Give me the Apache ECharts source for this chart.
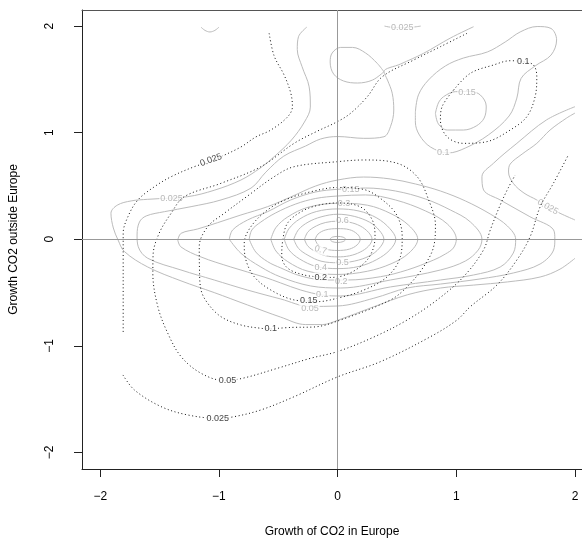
<!DOCTYPE html>
<html><head><meta charset="utf-8">
<script src="https://cdn.jsdelivr.net/npm/echarts/dist/echarts.min.js"></script>
<style>html,body{margin:0;padding:0;background:#fff}#chart{width:582px;height:543px}</style>
</head><body><div id="chart"></div>
<script>
// ---- axis ticks ----
const xTicks = [-2, -1, 0, 1, 2];
const yTicks = [-2, -1, 0, 1, 2];

// ---- solid (gray) contours ----
const s0025main = [[-0.26,1.99],[-0.33,1.90],[-0.34,1.78],[-0.30,1.62],[-0.24,1.43],[-0.23,1.24],[-0.28,1.10],[-0.39,0.93],[-0.535,0.775],[-0.65,0.67],[-0.815,0.556],[-1.04,0.46],[-1.263,0.40],[-1.60,0.375],[-1.74,0.36],[-1.857,0.32],[-1.91,0.244],[-1.89,0.106],[-1.85,-0.007],[-1.796,-0.116],[-1.60,-0.26],[-1.32,-0.39],[-1.04,-0.50],[-0.76,-0.616],[-0.48,-0.73],[-0.27,-0.80],[-0.126,-0.80],[0,-0.76],[0.30,-0.635],[0.59,-0.52],[0.866,-0.457],[1.143,-0.43],[1.43,-0.40],[1.706,-0.354],[1.874,-0.28],[2.0,-0.178]];
const s0025right = [[2.0,1.184],[1.93,1.138],[1.79,1.025],[1.678,0.90],[1.555,0.80],[1.454,0.706],[1.44,0.631],[1.48,0.525],[1.57,0.434],[1.678,0.369],[1.773,0.303],[1.874,0.244],[2.0,0.181]];
const s0025top = [[0.395,2.0],[0.445,1.99],[0.53,1.985],[0.63,1.99],[0.70,2.0]];
const s0025arc = [[-1.151,1.99],[-1.118,1.96],[-1.076,1.945],[-1.034,1.96],[-1.0,1.99]];
const s005main = [[1.145,1.994],[0.95,1.888],[0.725,1.745],[0.53,1.644],[0.39,1.572],[0.42,1.494],[0.46,1.37],[0.473,1.213],[0.445,1.056],[0.39,0.962],[0.22,0.947],[0,0.964],[-0.143,0.941],[-0.27,0.875],[-0.454,0.78],[-0.605,0.63],[-0.73,0.48],[-0.983,0.369],[-1.235,0.306],[-1.46,0.259],[-1.613,0.219],[-1.67,0.162],[-1.69,0.04],[-1.68,-0.07],[-1.60,-0.178],[-1.32,-0.288],[-1.04,-0.382],[-0.76,-0.476],[-0.48,-0.56],[-0.235,-0.63],[0,-0.626],[0.305,-0.553],[0.586,-0.457],[0.866,-0.42],[1.20,-0.372],[1.48,-0.316],[1.706,-0.232],[1.82,-0.10],[1.83,0],[1.82,0.087],[1.62,0.212],[1.37,0.369],[1.23,0.462],[1.216,0.587],[1.313,0.713],[1.51,0.90],[1.76,1.12],[2.0,1.244]];
const s005loop = [[0.39,1.572],[0.334,1.65],[0.235,1.748],[0.126,1.80],[0.025,1.80],[-0.046,1.748],[-0.063,1.663],[-0.034,1.551],[0.05,1.485],[0.168,1.466],[0.294,1.494],[0.39,1.572]];
const s01main = [[-1.347,-0.007],[-1.319,0.056],[-1.179,0.097],[-1.011,0.156],[-0.815,0.228],[-0.59,0.306],[-0.395,0.397],[-0.185,0.50],[0,0.556],[0.218,0.584],[0.445,0.566],[0.655,0.519],[0.866,0.453],[1.076,0.36],[1.286,0.237],[1.43,0.125],[1.50,0],[1.48,-0.129],[1.37,-0.26],[1.145,-0.335],[0.866,-0.382],[0.445,-0.447],[0.025,-0.532],[-0.129,-0.523],[-0.311,-0.476],[-0.479,-0.41],[-0.62,-0.354],[-0.90,-0.26],[-1.151,-0.166],[-1.32,-0.072],[-1.347,-0.007]];
const s01lobe = [[0.655,1.194],[0.681,1.355],[0.765,1.494],[0.908,1.626],[1.059,1.70],[1.261,1.757],[1.412,1.851],[1.538,1.945],[1.681,1.996],[1.798,1.978],[1.845,1.87],[1.798,1.728],[1.664,1.626],[1.546,1.51],[1.51,1.325],[1.445,1.157],[1.269,0.978],[1.076,0.856],[0.933,0.81],[0.782,0.866],[0.689,0.978],[0.655,1.10],[0.655,1.194]];
const s015lobe = [[0.824,1.182],[0.849,1.279],[0.893,1.338],[0.992,1.385],[1.118,1.386],[1.202,1.354],[1.252,1.25],[1.235,1.138],[1.168,1.063],[1.061,1.025],[0.924,1.025],[0.849,1.082],[0.824,1.182]];
const s015 = [[-0.913,0],[-0.885,0.087],[-0.759,0.181],[-0.59,0.259],[-0.395,0.369],[-0.185,0.444],[0,0.469],[0.235,0.481],[0.487,0.453],[0.74,0.378],[0.95,0.275],[1.118,0.163],[1.216,0],[1.185,-0.10],[1.076,-0.204],[0.866,-0.288],[0.445,-0.382],[0.025,-0.457],[-0.227,-0.438],[-0.479,-0.354],[-0.647,-0.26],[-0.815,-0.131],[-0.913,0]];
const s02 = [[-0.745,0],[-0.723,0.087],[-0.647,0.162],[-0.521,0.248],[-0.353,0.331],[-0.185,0.383],[0,0.406],[0.235,0.416],[0.487,0.369],[0.74,0.266],[0.924,0.144],[1.0,0],[0.975,-0.082],[0.908,-0.138],[0.81,-0.194],[0.586,-0.288],[0.361,-0.351],[0.082,-0.382],[-0.10,-0.382],[-0.311,-0.344],[-0.479,-0.269],[-0.59,-0.21],[-0.69,-0.119],[-0.745,0]];
const s03 = [[-0.563,0],[-0.52,0.11],[-0.42,0.21],[-0.25,0.3],[0,0.338],[0.25,0.32],[0.45,0.24],[0.6,0.13],[0.675,0],[0.6,-0.13],[0.45,-0.23],[0.25,-0.3],[0,-0.33],[-0.25,-0.3],[-0.42,-0.21],[-0.52,-0.11],[-0.563,0]];
const s04 = [[-0.45,0],[-0.41,0.1],[-0.32,0.19],[-0.18,0.26],[0,0.285],[0.18,0.265],[0.33,0.2],[0.44,0.1],[0.49,0],[0.44,-0.1],[0.33,-0.19],[0.18,-0.255],[0,-0.275],[-0.18,-0.255],[-0.32,-0.185],[-0.41,-0.1],[-0.45,0]];
const s05 = [[-0.37,0],[-0.33,0.09],[-0.25,0.16],[-0.14,0.21],[0,0.235],[0.14,0.215],[0.27,0.16],[0.35,0.085],[0.39,0],[0.35,-0.085],[0.27,-0.155],[0.14,-0.205],[0,-0.22],[-0.14,-0.205],[-0.25,-0.15],[-0.33,-0.085],[-0.37,0]];
const s06 = [[-0.28,0],[-0.25,0.07],[-0.18,0.125],[-0.1,0.158],[0,0.17],[0.1,0.16],[0.19,0.125],[0.26,0.065],[0.29,0],[0.26,-0.065],[0.19,-0.12],[0.1,-0.155],[0,-0.165],[-0.1,-0.155],[-0.18,-0.12],[-0.25,-0.065],[-0.28,0]];
const s07 = [[-0.19,0],[-0.165,0.05],[-0.1,0.088],[0,0.1],[0.1,0.09],[0.165,0.05],[0.19,0],[0.165,-0.052],[0.1,-0.092],[0,-0.105],[-0.1,-0.092],[-0.165,-0.052],[-0.19,0]];
const s08 = [[-0.067,0],[-0.045,0.02],[0,0.027],[0.045,0.02],[0.068,0],[0.045,-0.022],[0,-0.03],[-0.045,-0.022],[-0.067,0]];

// ---- dotted (black) contours ----
const d0025upper = [[-0.577,1.932],[-0.535,1.72],[-0.451,1.541],[-0.395,1.372],[-0.381,1.244],[-0.423,1.147],[-0.563,1.025],[-0.689,0.96],[-0.815,0.866],[-0.983,0.775],[-1.084,0.725],[-1.208,0.681],[-1.403,0.587],[-1.544,0.493],[-1.683,0.369],[-1.767,0.212],[-1.807,0.056],[-1.807,-0.194],[-1.807,-0.57],[-1.807,-0.882]];
const d0025lower = [[-1.809,-1.273],[-1.712,-1.414],[-1.487,-1.57],[-1.263,-1.648],[-1.011,-1.679],[-0.871,-1.664],[-0.647,-1.601],[-0.367,-1.477],[-0.003,-1.292],[0.361,-1.148],[0.782,-0.914],[1.006,-0.757],[1.118,-0.632],[1.342,-0.429],[1.51,-0.194],[1.622,0.024],[1.706,0.303],[1.818,0.525],[1.944,0.791]];
const d005 = [[1.09,1.932],[0.866,1.807],[0.641,1.682],[0.376,1.525],[0.25,1.338],[0.109,1.182],[-0.003,1.103],[-0.185,1.007],[-0.367,0.90],[-0.647,0.681],[-0.983,0.525],[-1.292,0.40],[-1.403,0.244],[-1.504,0.056],[-1.555,-0.147],[-1.557,-0.319],[-1.515,-0.632],[-1.431,-0.882],[-1.319,-1.101],[-1.151,-1.257],[-0.955,-1.325],[-0.801,-1.304],[-0.507,-1.21],[-0.227,-1.116],[-0.003,-1.054],[0.305,-0.917],[0.586,-0.757],[0.838,-0.569],[1.061,-0.351],[1.229,-0.10],[1.286,0.087],[1.37,0.322],[1.437,0.481],[1.496,0.603]];
const d01main = [[-0.563,-0.841],[-0.395,-0.827],[-0.202,-0.823],[0.025,-0.757],[0.445,-0.569],[0.586,-0.445],[0.725,-0.257],[0.809,-0.069],[0.824,0.134],[0.767,0.369],[0.67,0.587],[0.502,0.713],[0.221,0.744],[-0.003,0.728],[-0.367,0.681],[-0.535,0.587],[-0.759,0.406],[-0.955,0.244],[-1.095,0.118],[-1.166,-0.069],[-1.164,-0.288],[-1.151,-0.476],[-1.095,-0.60],[-0.983,-0.726],[-0.815,-0.804],[-0.647,-0.835],[-0.563,-0.841]];
const d01lobe = [[0.977,1.40],[1.118,1.557],[1.313,1.635],[1.454,1.675],[1.563,1.666],[1.65,1.635],[1.678,1.525],[1.664,1.338],[1.594,1.15],[1.454,1.025],[1.258,0.916],[1.061,0.90],[0.922,0.962],[0.866,1.119],[0.88,1.244],[0.977,1.40]];
const d015 = [[-0.244,-0.579],[-0.367,-0.569],[-0.563,-0.476],[-0.703,-0.351],[-0.773,-0.194],[-0.787,-0.038],[-0.731,0.118],[-0.591,0.275],[-0.423,0.378],[-0.199,0.453],[0,0.486],[0.221,0.467],[0.389,0.359],[0.502,0.219],[0.544,0.024],[0.529,-0.163],[0.418,-0.351],[0.221,-0.476],[-0.003,-0.553],[-0.171,-0.585],[-0.244,-0.579]];
const d02 = [[-0.143,-0.354],[-0.283,-0.335],[-0.423,-0.269],[-0.471,-0.157],[-0.462,-0.007],[-0.423,0.15],[-0.311,0.256],[-0.171,0.317],[0,0.341],[0.193,0.303],[0.292,0.181],[0.315,0.024],[0.277,-0.147],[0.176,-0.269],[0.05,-0.34],[-0.059,-0.358],[-0.143,-0.354]];

// ---- contour labels: [x, y, text, rotation] ----
const solidLabels = [[-1.40,0.387,'0.025',0],[0.544,1.99,'0.025',0],[1.77,0.303,'0.025',-30],[0.89,0.814,'0.1',0],[1.09,1.375,'0.15',0],[0.11,0.47,'0.15',0],[0.053,0.338,'0.3',0],[0.04,0.172,'0.6',0],[-0.143,-0.10,'0.7',-15],[-0.143,-0.265,'0.4',0],[0.04,-0.22,'0.5',0],[0.03,-0.395,'0.2',0],[-0.129,-0.516,'0.1',0],[-0.233,-0.647,'0.05',0]];
const dottedLabels = [[-1.067,0.744,'0.025',20],[-1.01,-1.679,'0.025',0],[-0.927,-1.328,'0.05',0],[-0.563,-0.841,'0.1',0],[-0.244,-0.579,'0.15',0],[-0.143,-0.354,'0.2',0],[1.563,1.666,'0.1',0]];

const FONT = 'Liberation Sans, Arial, Helvetica, sans-serif';
const SOLID = '#bcbcbc', SOLIDTXT = '#a8a8a8', DOT = '#111';

function contour(data, dotted) {
  return {
    type: 'line', data: data, symbol: 'none', showSymbol: false, smooth: 0.35,
    silent: true, animation: false, z: dotted ? 4 : 2,
    lineStyle: dotted ? {color: DOT, width: 1, type: [1, 2.6]} : {color: SOLID, width: 1, type: 'solid'}
  };
}
function labels(arr, color, z) {
  return {
    type: 'scatter', symbol: 'circle', symbolSize: 1, silent: true, animation: false, z: z,
    itemStyle: {color: 'rgba(0,0,0,0)'},
    data: arr.map(a => ({value: [a[0], a[1]], name: a[2], label: {rotate: a[3]}})),
    label: {show: true, formatter: '{b}', position: 'inside', color: color, fontSize: 9,
            fontFamily: FONT, backgroundColor: '#fff', padding: [0, 1]}
  };
}

const solidSets = [s0025main, s0025right, s0025top, s0025arc, s005main, s005loop, s01main, s01lobe, s015lobe, s015, s02, s03, s04, s05, s06, s07, s08];
const dottedSets = [d0025upper, d0025lower, d005, d01main, d01lobe, d015, d02];

const series = [];
solidSets.forEach(d => series.push(contour(d, false)));
series.push(labels(solidLabels, SOLIDTXT, 3));
dottedSets.forEach(d => series.push(contour(d, true)));
series.push(labels(dottedLabels, '#111', 5));
series.push({
  type: 'line', data: [], silent: true, animation: false, z: 6,
  markLine: {silent: true, symbol: ['none', 'none'], label: {show: false}, animation: false,
    lineStyle: {color: '#999', type: 'solid', width: 1},
    data: [{xAxis: 0}, {yAxis: 0}]}
});

const fmt = v => String(v).replace('-', '\u2212');
const XMIN = -2.154, XMAX = 2.059;
const chart = echarts.init(document.getElementById('chart'), null, {renderer: 'canvas'});
chart.setOption({
  animation: false,
  backgroundColor: '#fff',
  grid: {left: 80.7, top: 10, right: 0, bottom: 74, show: false},
  xAxis: [{
    type: 'value', min: XMIN, max: XMAX,
    name: 'Growth of CO2 in Europe', nameLocation: 'middle', nameGap: 57,
    nameTextStyle: {fontFamily: FONT, fontSize: 12, color: '#000'},
    axisLine: {show: true, onZero: false, lineStyle: {color: '#222'}},
    splitLine: {show: false},
    axisTick: {show: true, inside: false, length: 8, customValues: xTicks, lineStyle: {color: '#222'}},
    axisLabel: {show: true, customValues: xTicks, formatter: fmt, margin: 22, fontFamily: FONT, fontSize: 12, color: '#000'}
  }, {
    type: 'value', min: XMIN, max: XMAX, position: 'top',
    axisLine: {show: true, onZero: false, lineStyle: {color: '#555'}},
    axisTick: {show: false}, axisLabel: {show: false}, splitLine: {show: false}
  }],
  yAxis: {
    type: 'value', min: -2.155, max: 2.151,
    name: 'Growth CO2 outside Europe', nameLocation: 'middle', nameGap: 62,
    nameTextStyle: {fontFamily: FONT, fontSize: 12, color: '#000'},
    axisLine: {show: true, onZero: false, lineStyle: {color: '#222'}},
    splitLine: {show: false},
    axisTick: {show: true, inside: false, length: 8, customValues: yTicks, lineStyle: {color: '#222'}},
    axisLabel: {show: true, customValues: yTicks, formatter: fmt, rotate: 90, margin: 26, fontFamily: FONT, fontSize: 12, color: '#000'}
  },
  series: series
});
</script></body></html>
